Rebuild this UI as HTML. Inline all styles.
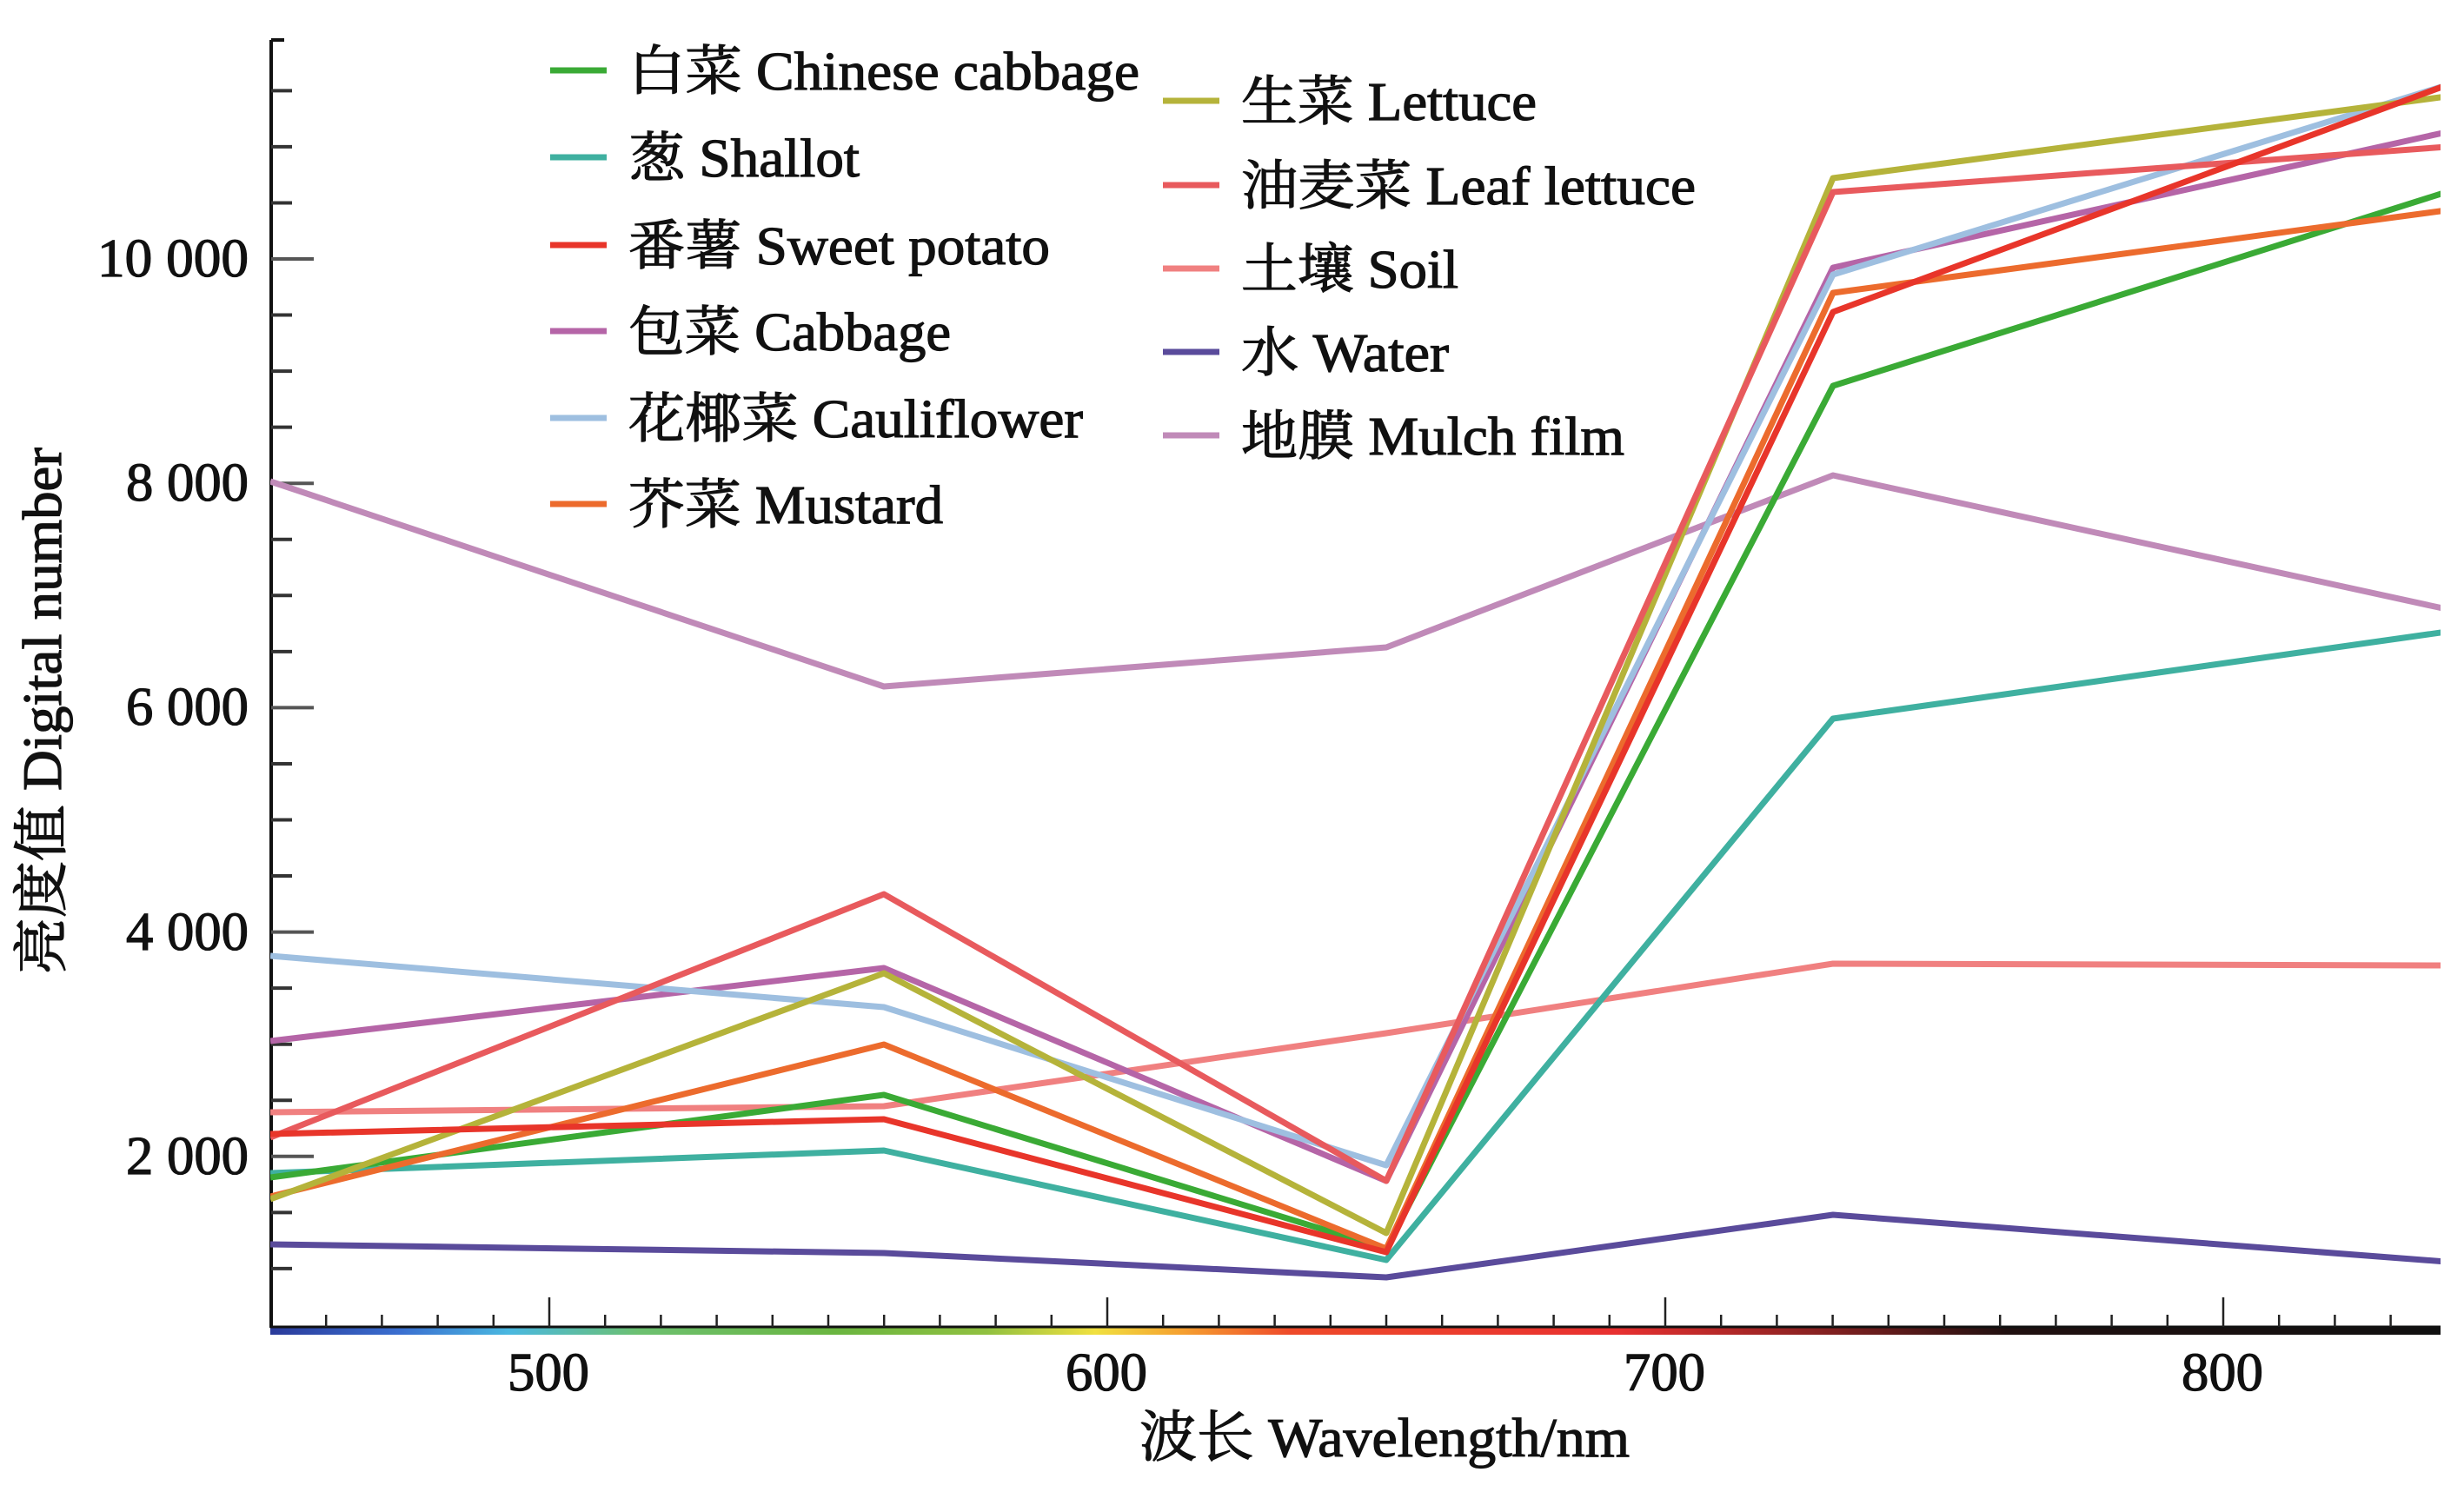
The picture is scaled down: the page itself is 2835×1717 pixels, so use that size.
<!DOCTYPE html>
<html><head><meta charset="utf-8"><style>
html,body{margin:0;padding:0;background:#fff;}
svg{display:block;}
text{font-family:"Liberation Serif","Noto Serif CJK SC","Noto Sans CJK SC",serif;fill:#111;stroke:#111;stroke-width:1.2;}
</style></head><body>
<svg width="2835" height="1717" viewBox="0 0 2835 1717" xmlns="http://www.w3.org/2000/svg">
<defs>
<linearGradient id="spec" x1="311" x2="2808" y1="0" y2="0" gradientUnits="userSpaceOnUse">
<stop offset="0" stop-color="#2a3a9a"/>
<stop offset="0.06" stop-color="#3a6fd0"/>
<stop offset="0.11" stop-color="#4ab8e0"/>
<stop offset="0.17" stop-color="#6cc070"/>
<stop offset="0.26" stop-color="#6ab540"/>
<stop offset="0.33" stop-color="#90c040"/>
<stop offset="0.38" stop-color="#f0e040"/>
<stop offset="0.42" stop-color="#f5a030"/>
<stop offset="0.47" stop-color="#ee4a2a"/>
<stop offset="0.62" stop-color="#e83030"/>
<stop offset="0.72" stop-color="#802020"/>
<stop offset="0.8" stop-color="#201010"/>
<stop offset="1" stop-color="#101010"/>
</linearGradient>
<clipPath id="pc"><rect x="311" y="40" width="2497" height="1490"/></clipPath>
</defs>

<rect x="311" y="1526" width="2497" height="10" fill="url(#spec)"/>
<line x1="311" y1="1527" x2="2808" y2="1527" stroke="#111" stroke-width="3"/>
<g stroke="#222" stroke-width="2.5" id="xt"></g>

<line x1="312" y1="46" x2="312" y2="1528" stroke="#111" stroke-width="4"/>
<line x1="312" y1="46" x2="327" y2="46" stroke="#111" stroke-width="4"/>
<g stroke="#333" stroke-width="4" id="yt"></g>

<g clip-path="url(#pc)" fill="none" stroke-width="7" stroke-linejoin="round">
<polyline stroke="#c08ab8" points="311,554 1017,790 1595,745 2109,547 2815,701"/>
<polyline stroke="#5a4b9b" points="311,1432 1017,1442 1595,1470 2109,1398 2815,1452"/>
<polyline stroke="#f08080" points="311,1280 1017,1273 1595,1189 2109,1109 2815,1111"/>
<polyline stroke="#3fb0a0" points="311,1350 1017,1324 1595,1450 2109,827 2815,727"/>
<polyline stroke="#3aaa35" points="311,1355 1017,1260 1595,1437 2109,444 2815,221"/>
<polyline stroke="#ec6b2d" points="311,1377 1017,1202 1595,1437 2109,337 2815,242"/>
<polyline stroke="#b565a7" points="311,1198 1017,1114 1595,1359 2109,308 2815,152"/>
<polyline stroke="#9ebfe0" points="311,1100 1017,1159 1595,1341 2109,316 2815,98"/>
<polyline stroke="#b5b33a" points="311,1380 1017,1120 1595,1419 2109,205 2815,111"/>
<polyline stroke="#e85a5d" points="311,1309 1017,1029 1595,1359 2109,221 2815,169"/>
<polyline stroke="#e8352a" points="311,1305 1017,1288 1595,1441 2109,359 2815,98"/>
</g>

<g font-size="62" text-anchor="end">
<text x="286" y="318" textLength="174" lengthAdjust="spacingAndGlyphs">10 000</text>
<text x="286" y="576" textLength="141" lengthAdjust="spacingAndGlyphs">8 000</text>
<text x="286" y="834" textLength="141" lengthAdjust="spacingAndGlyphs">6 000</text>
<text x="286" y="1093" textLength="141" lengthAdjust="spacingAndGlyphs">4 000</text>
<text x="286" y="1351" textLength="141" lengthAdjust="spacingAndGlyphs">2 000</text>
</g>
<g font-size="62" text-anchor="middle">
<text x="631" y="1600" textLength="94" lengthAdjust="spacingAndGlyphs">500</text>
<text x="1273" y="1600" textLength="94" lengthAdjust="spacingAndGlyphs">600</text>
<text x="1915" y="1600" textLength="94" lengthAdjust="spacingAndGlyphs">700</text>
<text x="2557" y="1600" textLength="94" lengthAdjust="spacingAndGlyphs">800</text>
</g>
<text x="1311" y="1676" font-size="64" textLength="564" lengthAdjust="spacingAndGlyphs">波长 Wavelength/nm</text>
<text transform="translate(70,1121) rotate(-90)" font-size="64" textLength="606" lengthAdjust="spacingAndGlyphs">亮度值 Digital number</text>

<g stroke-width="7">
<line x1="633" y1="81" x2="698" y2="81" stroke="#3aaa35"/>
<line x1="633" y1="181" x2="698" y2="181" stroke="#3fb0a0"/>
<line x1="633" y1="282" x2="698" y2="282" stroke="#e8352a"/>
<line x1="633" y1="381" x2="698" y2="381" stroke="#b565a7"/>
<line x1="633" y1="481" x2="698" y2="481" stroke="#9ebfe0"/>
<line x1="633" y1="580" x2="698" y2="580" stroke="#ec6b2d"/>
<line x1="1338" y1="116" x2="1403" y2="116" stroke="#b5b33a"/>
<line x1="1338" y1="213" x2="1403" y2="213" stroke="#e85a5d"/>
<line x1="1338" y1="309" x2="1403" y2="309" stroke="#f08080"/>
<line x1="1338" y1="405" x2="1403" y2="405" stroke="#5a4b9b"/>
<line x1="1338" y1="501" x2="1403" y2="501" stroke="#c08ab8"/>
</g>
<g font-size="62">
<text x="723" y="103" textLength="588" lengthAdjust="spacingAndGlyphs">白菜 Chinese cabbage</text>
<text x="723" y="203" textLength="266" lengthAdjust="spacingAndGlyphs">葱 Shallot</text>
<text x="723" y="304" textLength="485" lengthAdjust="spacingAndGlyphs">番薯 Sweet potato</text>
<text x="723" y="403" textLength="371" lengthAdjust="spacingAndGlyphs">包菜 Cabbage</text>
<text x="723" y="503" textLength="523" lengthAdjust="spacingAndGlyphs">花椰菜 Cauliflower</text>
<text x="723" y="602" textLength="362" lengthAdjust="spacingAndGlyphs">芥菜 Mustard</text>
<text x="1428" y="138" textLength="340" lengthAdjust="spacingAndGlyphs">生菜 Lettuce</text>
<text x="1428" y="235" textLength="523" lengthAdjust="spacingAndGlyphs">油麦菜 Leaf lettuce</text>
<text x="1428" y="331" textLength="250" lengthAdjust="spacingAndGlyphs">土壤 Soil</text>
<text x="1428" y="427" textLength="239" lengthAdjust="spacingAndGlyphs">水 Water</text>
<text x="1428" y="523" textLength="441" lengthAdjust="spacingAndGlyphs">地膜 Mulch film</text>
</g>
</svg>
<script>
(function(){
var ns="http://www.w3.org/2000/svg";
var xt=document.getElementById("xt");
for(var w=460;w<=830;w+=10){
 var x=311+(w-450)*6.42; var maj=(w%100===0);
 var l=document.createElementNS(ns,"line");
 l.setAttribute("x1",x);l.setAttribute("x2",x);
 l.setAttribute("y1",maj?1493:1513);l.setAttribute("y2",1527);
 xt.appendChild(l);
}
var yt=document.getElementById("yt");
for(var v=1000;v<=11500;v+=500){
 var y=1589-0.1291*v; var maj=(v%2000===0);
 var l=document.createElementNS(ns,"line");
 l.setAttribute("x1",312);l.setAttribute("x2",maj?361:336);
 l.setAttribute("y1",y);l.setAttribute("y2",y);
 if(maj)l.setAttribute("stroke","#555");
 yt.appendChild(l);
}
})();
</script>
</body></html>
